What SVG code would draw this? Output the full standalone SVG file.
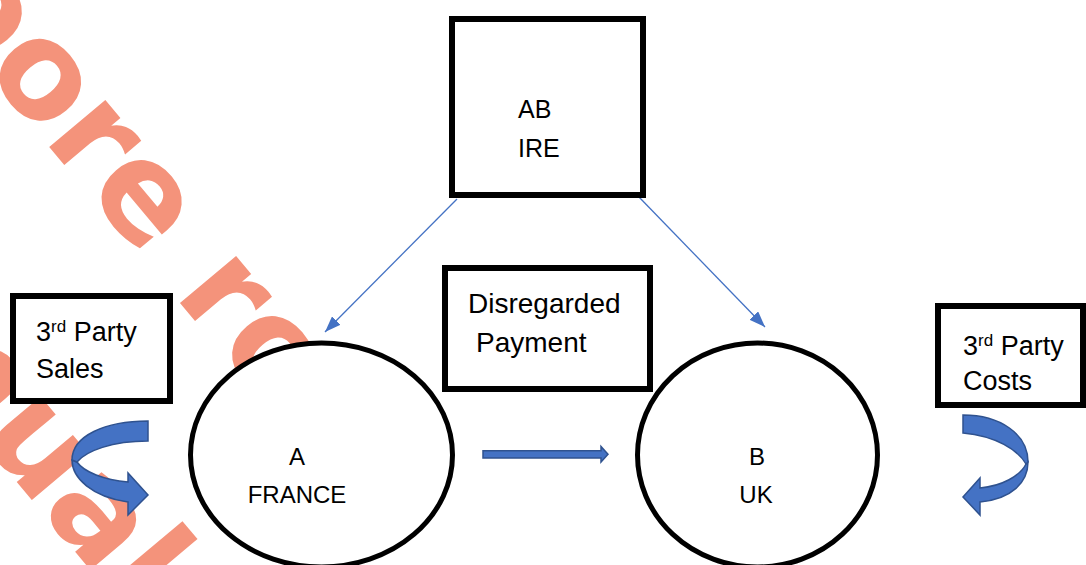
<svg xmlns="http://www.w3.org/2000/svg" width="1086" height="565" viewBox="0 0 1086 565">
  <defs>
    <style>
      .box { fill: #ffffff; stroke: #000000; stroke-width: 6; }
      .ent { fill: #ffffff; stroke: #000000; stroke-width: 5; }
      .lbl { font-family: "Liberation Sans", Arial, sans-serif; fill: #000000; }
      .thin { fill: none; stroke: #4472C4; stroke-width: 1.3; }
      .block { fill: #4472C4; stroke: #2F528F; stroke-width: 1.5; stroke-linejoin: miter; }
      .wm { font-family: "DejaVu Sans", sans-serif; font-weight: bold; font-size: 134px; fill: #F4937B; }
    </style>
    <marker id="tri" markerUnits="userSpaceOnUse" markerWidth="16" markerHeight="12" refX="16" refY="6" orient="auto">
      <path d="M0,0 L16,6 L0,12 Z" fill="#4472C4"/>
    </marker>
  </defs>

  <rect width="1086" height="565" fill="#ffffff"/>

  <!-- background watermark lettering -->
  <g id="watermark" transform="rotate(50)">
    <text class="wm" x="-51" y="57">oore ro</text>
    <text class="wm" x="224" y="297">nual</text>
  </g>

  <!-- connectors -->
  <g id="connectors">
    <line class="thin" x1="457" y1="199" x2="325" y2="332" marker-end="url(#tri)"/>
    <line class="thin" x1="638" y1="196" x2="765" y2="327" marker-end="url(#tri)"/>
    <path class="block" d="M483,450.7 L601,450.7 L601,446.5 L608,454.3 L601,462 L601,458 L483,458 Z"/>
    <!-- curved arrow into A -->
    <g id="loop-sales">
      <path class="block" d="M72,460 C72,478 92,497 128,502 L128,515 L148,495 L128,473 L128,482 C104,480 84,472 77,462 Z"/>
      <path class="block" d="M148,421 C105,421 72,436 72,460 L77,462 C86,451 112,441 148,441 Z"/>
    </g>
    <!-- curved arrow out of B -->
    <g id="loop-costs">
      <path class="block" d="M1028,462 C1028,482 1012,499 980,502 L980,515 L963,497 L980,478 L980,488 C1002,486 1020,476 1026,464 Z"/>
      <path class="block" d="M963,415 C1000,415 1028,434 1028,462 L1026,464 C1018,450 996,436 963,433 Z"/>
    </g>
  </g>

  <g id="node-ab-ire">
    <rect class="box" x="452" y="19" width="191" height="176"/>
    <text class="lbl" font-size="25" x="518" y="118">AB</text>
    <text class="lbl" font-size="25" x="518" y="157">IRE</text>
  </g>

  <g id="node-disregarded">
    <rect class="box" x="445" y="268" width="205" height="121"/>
    <text class="lbl" font-size="28" x="468" y="313">Disregarded</text>
    <text class="lbl" font-size="28" x="476" y="352">Payment</text>
  </g>

  <g id="node-sales">
    <rect class="box" x="13" y="296" width="157" height="105"/>
    <text class="lbl" font-size="27" x="36" y="341">3<tspan font-size="17" dy="-9">rd</tspan><tspan dy="9"> Party</tspan></text>
    <text class="lbl" font-size="27" x="36" y="378">Sales</text>
  </g>

  <g id="node-costs">
    <rect class="box" x="938" y="306" width="145" height="99"/>
    <text class="lbl" font-size="27" x="963" y="355">3<tspan font-size="17" dy="-9">rd</tspan><tspan dy="9"> Party</tspan></text>
    <text class="lbl" font-size="27" x="963" y="390">Costs</text>
  </g>

  <g id="node-a-france">
    <ellipse class="ent" cx="321.5" cy="455" rx="131" ry="112"/>
    <text class="lbl" font-size="24" x="297" y="465" text-anchor="middle">A</text>
    <text class="lbl" font-size="24" x="297" y="503" text-anchor="middle">FRANCE</text>
  </g>

  <g id="node-b-uk">
    <ellipse class="ent" cx="757.5" cy="455" rx="120" ry="112"/>
    <text class="lbl" font-size="24" x="757" y="465" text-anchor="middle">B</text>
    <text class="lbl" font-size="24" x="756" y="503" text-anchor="middle">UK</text>
  </g>
</svg>
